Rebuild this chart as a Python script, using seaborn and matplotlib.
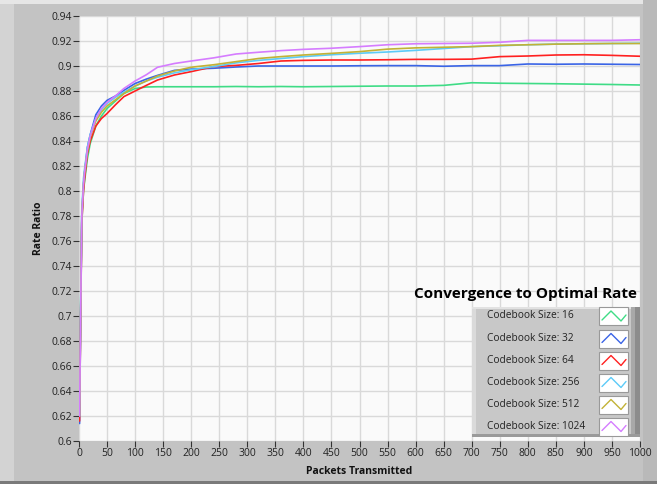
import numpy as np
import pandas as pd
import matplotlib
matplotlib.use("Agg")
import matplotlib.pyplot as plt
import seaborn as sns
from matplotlib.patches import Rectangle
from matplotlib.lines import Line2D

packets = [1, 3, 5, 8, 10, 15, 20, 30, 40, 50, 65, 80, 100, 120, 140, 170, 200, 240,
           280, 320, 360, 400, 450, 500, 550, 600, 650, 700, 750, 800, 850, 900, 950, 1000]

size_16 = [0.625, 0.71, 0.775, 0.80, 0.808, 0.826, 0.838, 0.852, 0.86, 0.866, 0.872, 0.878,
           0.882, 0.8832, 0.8834, 0.8834, 0.8834, 0.8834, 0.8836, 0.8834, 0.8836, 0.8834,
           0.8836, 0.8838, 0.884, 0.884, 0.8845, 0.8866, 0.8862, 0.886, 0.8858, 0.8855,
           0.8852, 0.8848]
size_32 = [0.614, 0.70, 0.78, 0.805, 0.815, 0.835, 0.845, 0.861, 0.868, 0.8725, 0.876, 0.8805,
           0.886, 0.8895, 0.8925, 0.8965, 0.8975, 0.8982, 0.8992, 0.9, 0.9, 0.9, 0.9, 0.9002,
           0.9003, 0.9003, 0.8998, 0.9003, 0.9003, 0.9016, 0.9014, 0.9016, 0.9014, 0.9012]
size_64 = [0.616, 0.70, 0.775, 0.80, 0.81, 0.83, 0.84, 0.852, 0.858, 0.862, 0.869, 0.8755,
           0.880, 0.8845, 0.8888, 0.8928, 0.8955, 0.8995, 0.9005, 0.902, 0.904, 0.9045,
           0.9048, 0.9048, 0.905, 0.9053, 0.9053, 0.9055, 0.9075, 0.908, 0.9088, 0.909,
           0.9085, 0.9078]
size_256 = [0.62, 0.71, 0.785, 0.81, 0.818, 0.835, 0.845, 0.858, 0.865, 0.87, 0.875, 0.879,
            0.884, 0.888, 0.891, 0.8945, 0.897, 0.8995, 0.9025, 0.9045, 0.906, 0.9075, 0.909,
            0.9102, 0.9112, 0.9125, 0.914, 0.9155, 0.9162, 0.917, 0.9175, 0.9178, 0.918, 0.9182]
size_512 = [0.62, 0.705, 0.78, 0.805, 0.815, 0.832, 0.843, 0.856, 0.863, 0.868, 0.873, 0.878,
            0.884, 0.888, 0.892, 0.896, 0.899, 0.901, 0.9035, 0.906, 0.9075, 0.9088, 0.9101,
            0.9115, 0.9135, 0.9145, 0.915, 0.9155, 0.9165, 0.917, 0.9175, 0.9178, 0.918, 0.918]
size_1024 = [0.62, 0.705, 0.78, 0.805, 0.815, 0.833, 0.844, 0.858, 0.866, 0.871, 0.876, 0.882,
             0.888, 0.893, 0.899, 0.902, 0.904, 0.9065, 0.9096, 0.911, 0.9123, 0.9133, 0.9142,
             0.9155, 0.917, 0.9178, 0.918, 0.9182, 0.919, 0.9205, 0.9205, 0.9205, 0.9205, 0.921]

labels = ["Codebook Size: 16", "Codebook Size: 32", "Codebook Size: 64",
          "Codebook Size: 256", "Codebook Size: 512", "Codebook Size: 1024"]
series = [size_16, size_32, size_64, size_256, size_512, size_1024]
colors = ["#3fdc86", "#3a64e6", "#ff2020", "#5ccbf7", "#c2b236", "#d57cff"]

x_ticks = list(range(0, 1001, 50))
y_ticks = [round(0.6 + 0.02 * i, 2) for i in range(18)]
y_tick_labels = ["0.6", "0.62", "0.64", "0.66", "0.68", "0.7", "0.72", "0.74", "0.76", "0.78",
                 "0.8", "0.82", "0.84", "0.86", "0.88", "0.9", "0.92", "0.94"]

df = pd.concat([pd.DataFrame({"Packets": packets, "Rate": s, "Series": lab})
                for s, lab in zip(series, labels)], ignore_index=True)

sns.set_theme(style="white")
plt.rcParams["font.family"] = ["Open Sans", "DejaVu Sans"]

W, H = 657, 484
fig = plt.figure(figsize=(W / 100, H / 100), dpi=100)
fig.patch.set_facecolor("#c3c3c3")
# bevel strips of the panel
fig.add_artist(Rectangle((0, 0), 14 / W, 1, transform=fig.transFigure, facecolor="#d3d3d3", edgecolor="none", zorder=-5))
fig.add_artist(Rectangle((0, 1 - 4 / H), 1, 4 / H, transform=fig.transFigure, facecolor="#e6e6e6", edgecolor="none", zorder=-5))
fig.add_artist(Rectangle((1 - 14 / W, 0), 14 / W, 1, transform=fig.transFigure, facecolor="#b9b9b9", edgecolor="none", zorder=-5))
fig.add_artist(Rectangle((0, 0), 1, 3 / H, transform=fig.transFigure, facecolor="#7a7a7a", edgecolor="none", zorder=-5))

ax = fig.add_axes([79 / W, 1 - 441 / H, 561 / W, 425 / H])
ax.set_facecolor("#fafafa")

sns.lineplot(data=df, x="Packets", y="Rate", hue="Series", palette=colors,
             linewidth=1.2, ax=ax, legend=False, estimator=None)

ax.set_xlim(0, 1000)
ax.set_ylim(0.6, 0.94)
ax.set_xticks(x_ticks)
ax.set_xticklabels([str(t) for t in x_ticks])
ax.set_yticks(y_ticks)
ax.set_yticklabels(y_tick_labels)
ax.grid(True, color="#d9d9d9", linewidth=1.0)
ax.set_axisbelow(True)
for sp in ax.spines.values():
    sp.set_visible(False)
ax.tick_params(axis="both", which="major", direction="out", length=4, width=0.8,
               color="#333333", labelsize=7.5, labelcolor="#222222", pad=1,
               bottom=True, left=True)

ax.set_xlabel("Packets Transmitted", fontsize=7.5, fontweight="bold", color="#111111", labelpad=5)
ax.set_ylabel("Rate Ratio", fontsize=7.5, fontweight="bold", color="#111111", labelpad=5)

ax.text(0.995, 0.345, "Convergence to Optimal Rate", transform=ax.transAxes,
        ha="right", va="center", fontsize=11, fontweight="bold", color="#000000")

# ---- legend panel drawn in pixel-based axes coordinates ----
def ax_x(px):
    return (px - 79) / 561


def ax_y(py):
    return (441 - py) / 425


def rect(x0, y0, x1, y1, **kw):
    r = Rectangle((ax_x(x0), ax_y(y1)), ax_x(x1) - ax_x(x0), ax_y(y0) - ax_y(y1),
                  transform=ax.transAxes, clip_on=False, zorder=5, **kw)
    ax.add_patch(r)


rect(472, 307, 640, 437, facecolor="#c8c8c8", edgecolor="none")
rect(472, 307, 476, 437, facecolor="#dadada", edgecolor="none")
rect(472, 307, 640, 309, facecolor="#e2e2e2", edgecolor="none")
rect(631, 307, 635, 437, facecolor="#a8a8a8", edgecolor="none")
rect(635, 307, 640, 437, facecolor="#8c8c8c", edgecolor="none")
rect(472, 434, 640, 437, facecolor="#9a9a9a", edgecolor="none")

row_y = [316, 338.5, 360.5, 382.5, 404.5, 426.5]
for lab, col, py in zip(labels, colors, row_y):
    ax.text(ax_x(487), ax_y(py), lab, transform=ax.transAxes, ha="left", va="center",
            fontsize=7.3, color="#222222", zorder=6, clip_on=False)
    rect(599, py - 9, 628, py + 9, facecolor="white", edgecolor="#999999", linewidth=0.8)
    zx = [602, 611, 621, 626]
    zy = [py + 4, py - 5, py + 5, py - 1]
    ax.add_line(Line2D([ax_x(v) for v in zx], [ax_y(v) for v in zy], color=col,
                       linewidth=1.0, transform=ax.transAxes, clip_on=False, zorder=7))

fig.savefig("out.png", dpi=100, facecolor=fig.get_facecolor())
